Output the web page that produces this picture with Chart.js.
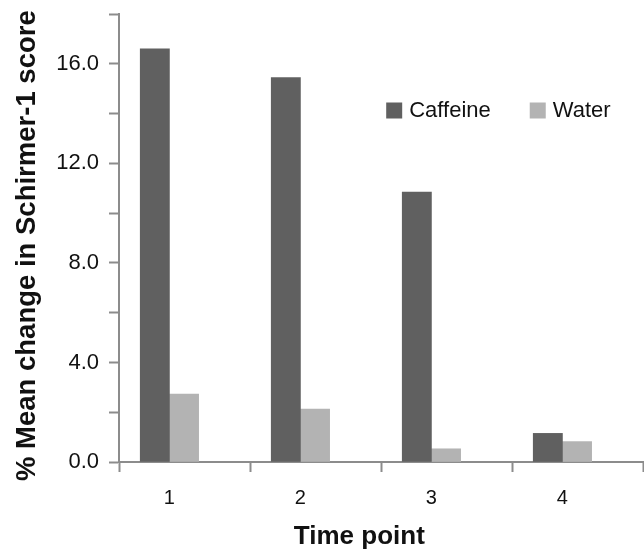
<!DOCTYPE html>
<html>
<head>
<meta charset="utf-8">
<script src="https://cdn.jsdelivr.net/npm/chart.js@4.4.0/dist/chart.umd.min.js"></script>
<style>
  html, body { margin: 0; padding: 0; background: #ffffff; }
  canvas { display: block; }
</style>
</head>
<body>
<canvas id="chart" width="644" height="552"></canvas>
<script>
// ---- data ----
const timePoints = ['1', '2', '3', '4'];
const caffeine = [16.6, 15.45, 10.85, 1.15];
const water = [2.73, 2.13, 0.53, 0.82];
const yTickLabels = ['0.0', '4.0', '8.0', '12.0', '16.0'];
const seriesNames = ['Caffeine', 'Water'];

// ---- style ----
const FONT = '"Liberation Sans", Arial, Helvetica, sans-serif';
const AXIS = '#8c8c8c';
const TEXT = '#111111';
const X_START = 0.615;   // left edge of the x axis, in category units

const toPoints = arr => arr.map((v, i) => ({ x: i + 1, y: v }));

// place the legend inside the plot area, upper right
const legendPlacer = {
  id: 'legendPlacer',
  afterLayout(chart) {
    const l = chart.legend;
    if (!l) return;
    l.top = 56.5;
    l.bottom = l.top + 80;
    l.height = 80;
    l.left += 10.6;
    l.right += 10.6;
  }
};

new Chart(document.getElementById('chart'), {
  type: 'bar',
  data: {
    datasets: [
      { label: seriesNames[0], data: toPoints(caffeine), backgroundColor: '#606060', borderWidth: 0 },
      { label: seriesNames[1], data: toPoints(water), backgroundColor: '#b3b3b3', borderWidth: 0 }
    ]
  },
  plugins: [legendPlacer],
  options: {
    responsive: false,
    animation: false,
    barThickness: 29.2,
    layout: { padding: { top: 13, right: 1, left: 0, bottom: 0 } },
    plugins: {
      tooltip: { enabled: false },
      legend: {
        position: 'top',
        align: 'end',
        maxHeight: 1,
        labels: {
          usePointStyle: true,
          pointStyle: 'rect',
          boxWidth: 8,
          boxHeight: 16,
          padding: 43,
          color: TEXT,
          font: { family: FONT, size: 22 }
        }
      }
    },
    scales: {
      x: {
        type: 'linear',
        offset: false,
        min: X_START,
        max: X_START + timePoints.length,
        afterBuildTicks(scale) {
          const t = [];
          for (let i = 0; i <= timePoints.length; i++) {
            t.push({ value: X_START + i });
            if (i < timePoints.length) t.push({ value: i + 1 });
          }
          scale.ticks = t;
        },
        afterFit(scale) {
          scale.height = 90;
          scale.paddingLeft = 0;
          scale.paddingRight = 0;
        },
        grid: {
          offset: false,
          drawOnChartArea: false,
          drawTicks: true,
          tickLength: 10,
          tickWidth: 2,
          tickColor: ctx => (ctx.tick && Number.isInteger(ctx.tick.value)) ? 'rgba(0,0,0,0)' : AXIS
        },
        border: { display: true, color: AXIS, width: 2 },
        ticks: {
          autoSkip: false,
          maxRotation: 0,
          padding: 14,
          color: TEXT,
          font: { family: FONT, size: 20 },
          callback: value => Number.isInteger(value) ? timePoints[value - 1] : ''
        },
        title: {
          display: true,
          text: 'Time point      ',
          color: TEXT,
          font: { family: FONT, size: 26, weight: 'bold' },
          padding: { top: 0, bottom: 0 }
        }
      },
      y: {
        min: 0,
        max: 18,
        afterFit(scale) {
          scale.width = 119;
          scale.paddingTop = 0;
          scale.paddingBottom = 0;
        },
        grid: {
          drawOnChartArea: false,
          drawTicks: true,
          tickLength: 10,
          tickWidth: 2,
          tickColor: AXIS
        },
        border: { display: true, color: AXIS, width: 2 },
        ticks: {
          stepSize: 2,
          autoSkip: false,
          padding: 10,
          color: TEXT,
          font: { family: FONT, size: 22 },
          callback: value => {
            const s = Number(value).toFixed(1);
            return yTickLabels.includes(s) ? s : '';
          }
        },
        title: {
          display: true,
          text: '% Mean change in Schirmer-1 score  ',
          color: TEXT,
          font: { family: FONT, size: 27.5, weight: 'bold' },
          padding: { top: 11, bottom: 0 }
        }
      }
    }
  }
});
</script>
</body>
</html>
